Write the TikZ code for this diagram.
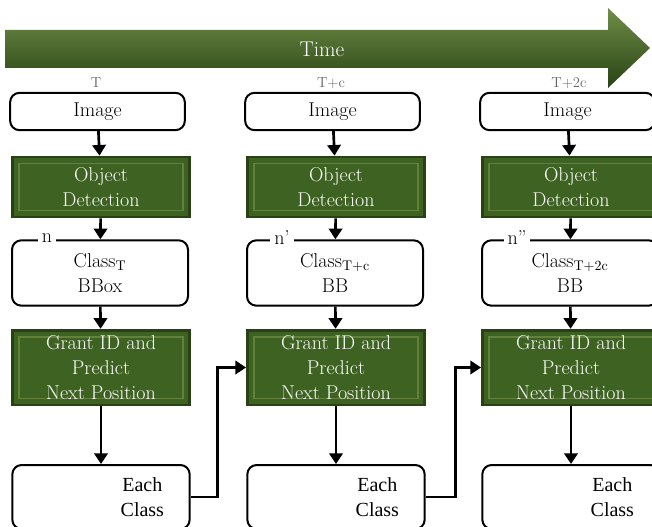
\documentclass[tikz,border=0pt]{standalone}
\usepackage{fontspec}
\newfontfamily\timesfont{Liberation Serif}
\usetikzlibrary{arrows.meta,positioning}
\definecolor{boxgreen}{RGB}{62,98,34}
\definecolor{lightgreen}{RGB}{112,142,72}
\definecolor{darkgreen}{RGB}{40,66,20}
\tikzset{
  whitebox/.style={draw, line width=1.5pt, rounded corners=7pt, fill=white, inner sep=0pt},
  greenbox/.style={draw=darkgreen, line width=2pt, fill=boxgreen, text=white,
    align=center, inner sep=0pt,
    path picture={\draw[lightgreen!70!boxgreen, line width=1pt]
      ([shift={(5pt,-5pt)}]path picture bounding box.north west) rectangle
      ([shift={(-5pt,5pt)}]path picture bounding box.south east);}},
  flow/.style={-{Triangle[length=8pt,width=10pt]}, line width=2pt},
  tick/.style={font=\fontsize{11}{13}\selectfont, text=gray!80!black}
}
\begin{document}
\begin{tikzpicture}[x=0.75pt, y=-0.75pt, font=\fontsize{15}{19}\selectfont]
\useasboundingbox (0,0) rectangle (652,527);

% time line
\shade[top color=lightgreen, middle color=boxgreen, bottom color=darkgreen]
  (5,30) -- (608,30) -- (608,8) -- (650,48) -- (608,88) -- (608,68) -- (5,68) -- cycle;
\node[text=white, font=\fontsize{16}{19}\selectfont] (time) at (322,49) {Time};
\node[tick] (tA) at (96,83) {T};
\node[tick] (tB) at (331,83) {T+c};
\node[tick] (tC) at (569,83) {T+2c};

% one column per time step
\foreach \c/\x/\s/\n/\b in {A/99/T/n/BBox, B/334/T+c/n’/BB, C/569/T+2c/n”/BB} {
  \node[whitebox, minimum width=131pt, minimum height=28pt] (img\c) at (\x-1.5,111.5) {Image};
  \node[greenbox, minimum width=133pt, minimum height=45pt] (det\c) at (\x+2,187) {Object\\Detection};
  \node[whitebox, minimum width=132pt, minimum height=49pt, align=center] (cls\c) at (\x+1,273)
    {Class\textsubscript{\s}\\\b};
  \node[fill=white, inner sep=3pt] (lbl\c) at (\x-52,238) {\n};
  \node[whitebox, minimum width=133pt, minimum height=48pt,
    label={[align=center, xshift=31pt, font=\timesfont\fontsize{15}{19}\selectfont]center:Each\\Class}] (each\c) at (\x+2,497) {};
  \node[greenbox, minimum width=133pt, minimum height=56pt] (grant\c) at (\x+2,367.5)
    {Grant ID and\\Predict\\Next Position};
  \draw[flow] (img\c) -- (det\c);
  \draw[flow] (det\c) -- (cls\c);
  \draw[flow] (cls\c) -- (grant\c);
  \draw[flow] (grant\c) -- (each\c);
}

% carry over to the next step
\draw[flow] (eachA.east) -- ++(27,0) |- (grantB.west);
\draw[flow] (eachB.east) -- ++(30,0) |- (grantC.west);
\end{tikzpicture}
\end{document}
